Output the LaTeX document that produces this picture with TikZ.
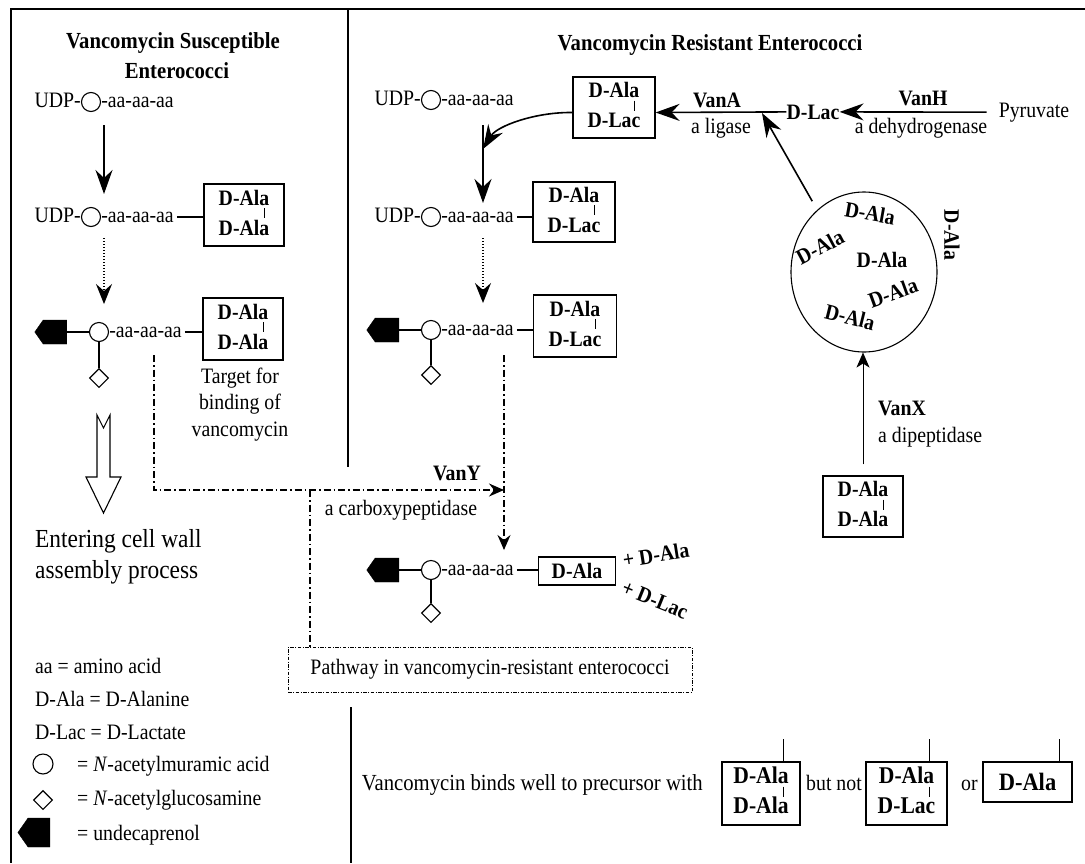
\documentclass[tikz,border=0pt]{standalone}
\usepackage{fontspec}
\setmainfont{Liberation Serif}[FakeStretch=0.9]
\usetikzlibrary{arrows.meta,calc,shapes.geometric,shapes.symbols}
\tikzset{
  txt/.style={inner sep=0pt, font=\fontsize{22}{26}\selectfont},
  btxt/.style={inner sep=0pt, font=\fontsize{22}{26}\selectfont\bfseries},
  boxtxt/.style={inner sep=0pt, font=\fontsize{22}{26}\selectfont\bfseries},
  ttl/.style={inner sep=0pt, font=\fontsize{23}{27}\selectfont\bfseries},
  frame/.style={line width=1.8pt},
  pbox/.style={draw, line width=1.2pt, inner sep=0pt},
  muram/.style={draw, circle, line width=1.1pt, minimum size=19pt, inner sep=0pt},
  glc/.style={draw, diamond, line width=1.1pt, minimum width=19pt, minimum height=19pt, inner sep=0pt},
  undec/.style={shape=signal, signal to=west, signal pointer angle=110, fill=black, draw=black, minimum width=32pt, minimum height=24pt, inner sep=0pt},
  link/.style={line width=1.1pt},
  bigarrow/.style={line width=1.6pt, -{Stealth[length=24pt,width=17pt,inset=8pt]}},
  dotarrow/.style={line width=1.5pt, dash pattern=on 1.2pt off 1.8pt, -{Stealth[length=20pt,width=16pt,inset=7pt]}},
  dashdot/.style={line width=1.3pt, dash pattern=on 7pt off 3pt on 1.5pt off 3pt},
  ddarrow/.style={dashdot, -{Stealth[length=15pt,width=13pt,inset=5pt]}},
  thinarrow/.style={line width=1pt, -{Stealth[length=15pt,width=13pt,inset=4pt]}},
  pathbox/.style={draw, line width=1pt, dash pattern=on 3.5pt off 1.5pt on 1pt off 1.5pt, inner sep=0pt},
}
% name, x, y
\newcommand\udprow[3]{%
  \node[muram] (#1) at (#2,#3) {};
  \node[txt, anchor=base east] (#1u) at ($(#1.west)+(0,5)$) {UDP-};
  \node[txt, anchor=base west] (#1a) at ($(#1.east)+(0,5)$) {-aa-aa-aa};
}
% name, x, y, diamond offset
\newcommand\lipidrow[4]{%
  \node[muram] (#1) at (#2,#3) {};
  \node[undec] (#1p) at ($(#1)+(-44,0)$) {};
  \node[glc] (#1d) at ($(#1)+(0,#4)$) {};
  \node[txt, anchor=base west] (#1a) at ($(#1.east)+(0,5)$) {-aa-aa-aa};
  \draw[link] (#1p.east) -- (#1.west);
  \draw[link] (#1.south) -- (#1d.north);
}
% name, x, y, w, h, second text
\newcommand\pairbox[6]{%
  \node[pbox, minimum width=#4pt, minimum height=#5pt] (#1) at (#2,#3) {};
  \node[boxtxt, anchor=base] (#1t) at ($(#1.center)+(0,-10)$) {D-Ala};
  \node[boxtxt, anchor=base] (#1b) at ($(#1.center)+(0,20)$) {#6};
  \coordinate (#1bar) at ($(#1t.base east)+(-5,0)$);
  \draw[line width=0.8pt] ($(#1bar)+(0,3)$) -- ($(#1bar)+(0,13)$);
}
\begin{document}
\begin{tikzpicture}[x=1pt,y=-1pt]
\useasboundingbox (0,0) rectangle (1085,863);
\fill[white] (0,0) rectangle (1085,863);

% frame
\draw[frame] (1085,9) -- (11,9) -- (11,863);
\draw[frame] (348,9) -- (348,467);
\draw[frame] (351,707) -- (351,863);

% ===== left panel
\node[ttl, anchor=base] (tL1) at (173,48) {Vancomycin Susceptible};
\node[ttl, anchor=base] (tL2) at (177,78) {Enterococci};
\udprow{cL1}{91}{102}
\udprow{cL2}{91}{217}
\pairbox{bL2}{244}{215}{80}{62}{D-Ala}
\draw[link, shorten <=3pt] (cL2a.east |- cL2) -- (bL2.west |- cL2);
\lipidrow{cL3}{99}{332}{46}
\pairbox{bL3}{243}{329}{80}{62}{D-Ala}
\draw[link, shorten <=3pt] (cL3a.east |- cL3) -- (bL3.west |- cL3);
\draw[bigarrow] ($(cL1)+(13,23)$) -- ($(cL2)+(13,-23)$);
\draw[dotarrow] ($(cL2)+(13,21)$) -- ($(cL3)+(5,-28)$);

\node[txt, anchor=base] (tg1) at (240,383) {Target for};
\node[txt, anchor=base] (tg2) at (240,409) {binding of};
\node[txt, anchor=base] (tg3) at (240,436) {vancomycin};

% hollow arrow
\draw[line width=1.1pt] (97,415) -- (103.5,428) -- (110,415) -- (110,477) -- (121,477)
  -- (103.5,513) -- (86,477) -- (97,477) -- cycle;
\node[inner sep=0pt, font=\fontsize{26}{30}\selectfont, anchor=base west] (ent1) at (35,547) {Entering cell wall};
\node[inner sep=0pt, font=\fontsize{26}{30}\selectfont, anchor=base west] (ent2) at (35,578) {assembly process};

% legend
\node[txt, anchor=base west] (lg1) at (35,673) {aa = amino acid};
\node[txt, anchor=base west] (lg2) at (35,706) {D-Ala = D-Alanine};
\node[txt, anchor=base west] (lg3) at (35,739) {D-Lac = D-Lactate};
\node[muram, minimum size=20pt] (lgc) at (43,764) {};
\node[txt, anchor=base west] (lg4) at (77,771) {= \textit{N}-acetylmuramic acid};
\node[glc] (lgd) at (43,800) {};
\node[txt, anchor=base west] (lg5) at (77,805) {= \textit{N}-acetylglucosamine};
\node[undec, minimum height=29pt] (lgp) at (39,832.5) {};
\node[txt, anchor=base west] (lg6) at (77,840) {= undecaprenol};

% ===== right panel
\node[ttl, anchor=base] (tR) at (710,50) {Vancomycin Resistant Enterococci};
\udprow{cR1}{431}{100}
\pairbox{bT}{614}{107.5}{82}{61}{D-Lac}
\udprow{cR2}{431}{217}
\pairbox{bR2}{574}{212}{82}{60}{D-Lac}
\draw[link, shorten <=3pt] (cR2a.east |- cR2) -- (bR2.west |- cR2);
\lipidrow{cR3}{431}{330}{45}
\pairbox{bR3}{575}{326}{83}{62}{D-Lac}
\draw[link, shorten <=3pt] (cR3a.east |- cR3) -- (bR3.west |- cR3);
\coordinate (vj) at ($(cR1)+(52,49)$);
\draw[bigarrow] ($(cR1)+(52,25)$) -- ($(cR2)+(52,-14)$);
\draw[bigarrow] ([yshift=-5pt]bT.west) .. controls (535,112) and (497,126) .. (vj);
\draw[dotarrow] ($(cR2)+(52,21)$) -- ($(cR3)+(52,-27)$);

% top right chain
\node[btxt, anchor=base] (dlac) at (813,119) {D-Lac};
\node[txt, anchor=base] (pyr) at (1034,117) {Pyruvate};
\draw[bigarrow] (dlac.west) -- ([yshift=-5pt]bT.east);
\draw[bigarrow, shorten <=12pt] (pyr.west) -- (dlac.east);
\node[btxt, anchor=base] (vanA) at (717,107) {VanA};
\node[txt, anchor=base] (ligase) at (721,133) {a ligase};
\node[btxt, anchor=base] (vanH) at (923,105) {VanH};
\node[txt, anchor=base] (dehyd) at (921,133) {a dehydrogenase};
\coordinate (aj) at (762,113);
\node[draw, ellipse, line width=1.1pt, minimum width=146pt, minimum height=160pt, inner sep=0pt] (bigc) at (864,272) {};
\draw[bigarrow, shorten <=10pt] (bigc.127) -- (aj);
\node[btxt, rotate=-10] (da1) at (870,213) {D-Ala};
\node[btxt, rotate=28] (da2) at (820,247) {D-Ala};
\node[btxt] (da3) at (882,260) {D-Ala};
\node[btxt, rotate=20] (da4) at (893,293) {D-Ala};
\node[btxt, rotate=-14] (da5) at (850,317) {D-Ala};
\node[btxt, rotate=-90] (da6) at (952,235) {D-Ala};

% VanX
\pairbox{bX}{863}{506.5}{80}{61}{D-Ala}
\draw[thinarrow, shorten <=11pt] (bX.north) -- (bX.north |- bigc.south);
\node[btxt, anchor=base west] (vanX) at (878,415) {VanX};
\node[txt, anchor=base west] (dipep) at (878,442) {a dipeptidase};

% row 4
\lipidrow{cR4}{431}{570}{43}
\node[pbox, font=\fontsize{22}{26}\selectfont\bfseries, minimum width=77pt, minimum height=28pt] (bR4) at (577,571) {D-Ala};
\draw[link, shorten <=3pt] (cR4a.east |- cR4) -- (bR4.west |- cR4);
\node[btxt, rotate=9] (plA) at (656,555) {+ D-Ala};
\node[btxt, rotate=-22] (plL) at (655,600) {+ D-Lac};

% VanY
\node[pathbox, font=\fontsize{22}{26}\selectfont, minimum width=404pt, minimum height=45pt] (pbx) at (490,669.5) {Pathway in vancomycin-resistant enterococci};
\coordinate (yA) at (154,355);
\coordinate (yB) at (154,490);
\coordinate (yC) at (504,490);
\coordinate (yD) at (504,355);
\coordinate (yE) at (310,490);
\draw[ddarrow] (yA) -- (yB) -- (yC);
\draw[ddarrow] (yD) -- ($(cR4)+(73,-20)$);
\draw[dashdot] (yE) -- (pbx.north -| yE);
\node[btxt, anchor=base] (vanY) at (457,480) {VanY};
\node[txt, anchor=base] (carb) at (401,515) {a carboxypeptidase};

% bottom statement
\node[txt, font=\fontsize{23}{27}\selectfont, anchor=base east] (binds) at (703,790) {Vancomycin binds well to precursor with};
\begin{scope}[boxtxt/.style={inner sep=0pt, font=\fontsize{24}{28}\selectfont\bfseries}]
\pairbox{bB1}{761}{793.5}{78}{63}{D-Ala}
\pairbox{bB2}{906.5}{793.5}{81}{63}{D-Lac}
\end{scope}
\node[pbox, font=\fontsize{25}{29}\selectfont\bfseries, minimum width=89pt, minimum height=40pt] (bB3) at (1027.5,782) {D-Ala};
\coordinate (bB3bar) at ($(bB3.north east)+(-13,0)$);
\node[txt, anchor=base west] (butnot) at (806,790) {but not};
\node[txt, anchor=base west] (ortxt) at (961,790) {or};
\draw[link] (bB1bar |- bB1.north) -- ++(0,-22);
\draw[link] (bB2bar |- bB2.north) -- ++(0,-22);
\draw[link] (bB3bar) -- ++(0,-22);
\end{tikzpicture}
\end{document}
